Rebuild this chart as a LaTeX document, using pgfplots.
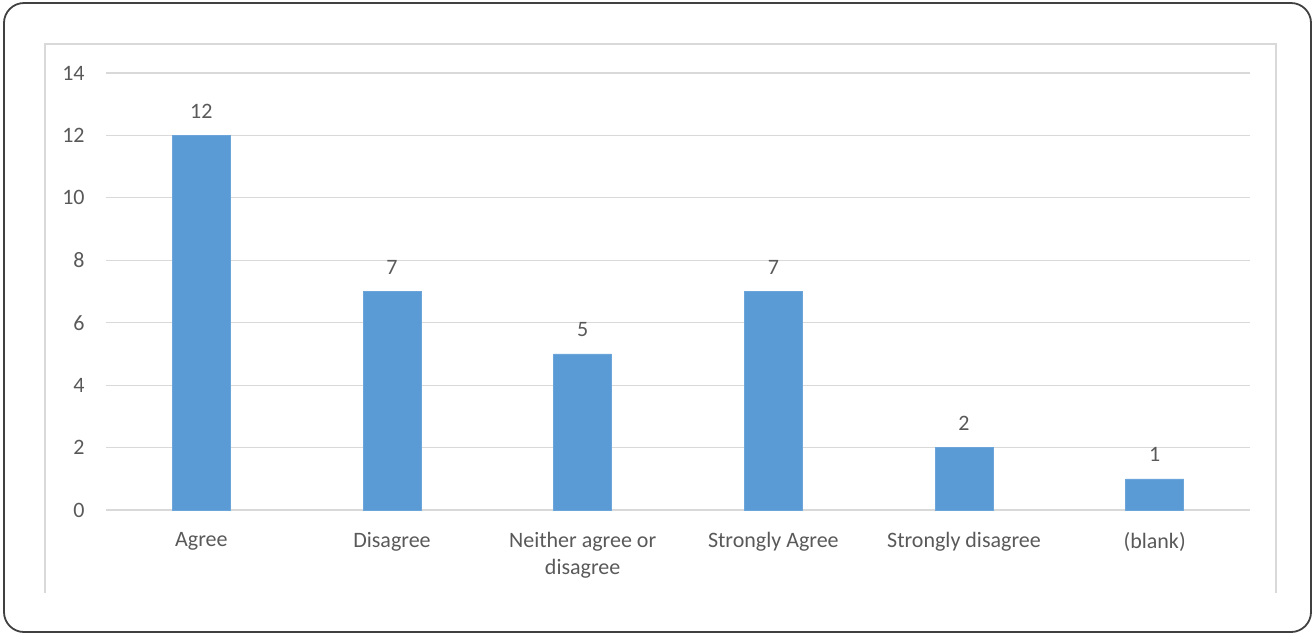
\documentclass[border=0pt]{standalone}
\usepackage{pgfplots}
\pgfplotsset{compat=1.18}
\usepackage{fontspec}
\setmainfont{Carlito}
\definecolor{barblue}{HTML}{5B9BD5}
\definecolor{txtgray}{HTML}{595959}
\definecolor{gridgray}{HTML}{D9D9D9}
\begin{document}
\begin{tikzpicture}
\path[use as bounding box] (0pt,0pt) rectangle (657.5pt,-317pt);
\draw[line width=0.9pt, draw=black!75, rounded corners=10pt] (2pt,-1.5pt) rectangle (655.5pt,-316pt);
\draw[line width=0.6pt, draw=gridgray] (22.5pt,-296.5pt) -- (22.5pt,-22pt) -- (638pt,-22pt) -- (638pt,-296.5pt);
\begin{axis}[
  at={(53pt,-255pt)}, anchor=south west,
  scale only axis, width=572pt, height=218.5pt,
  xmin=-0.5, xmax=5.5, ymin=0, ymax=14,
  ytick={0,2,...,14},
  xtick={0,1,2,3,4,5},
  xticklabels={Agree,Disagree,{Neither agree or\\disagree},Strongly Agree,Strongly disagree,(blank)},
  axis line style={draw=none},
  major tick length=0pt,
  ymajorgrids, grid style={gridgray, line width=0.6pt},
  /pgf/number format/assume math mode=true,
  ticklabel style={font=\fontsize{11}{13.4}\selectfont, text=txtgray},
  yticklabel style={inner sep=0pt, xshift=-10.5pt},
  xticklabel style={inner sep=0pt, yshift=-11pt, align=center},
  nodes near coords,
  every node near coord/.append style={font=\fontsize{11}{13.4}\selectfont, text=txtgray, inner sep=0pt, yshift=8.5pt},
]
\addplot[ybar, bar width=29pt, fill=barblue, draw=barblue!90!white, line width=0.3pt]
  coordinates {(0,12) (1,7) (2,5) (3,7) (4,2) (5,1)};
\end{axis}
\end{tikzpicture}
\end{document}
